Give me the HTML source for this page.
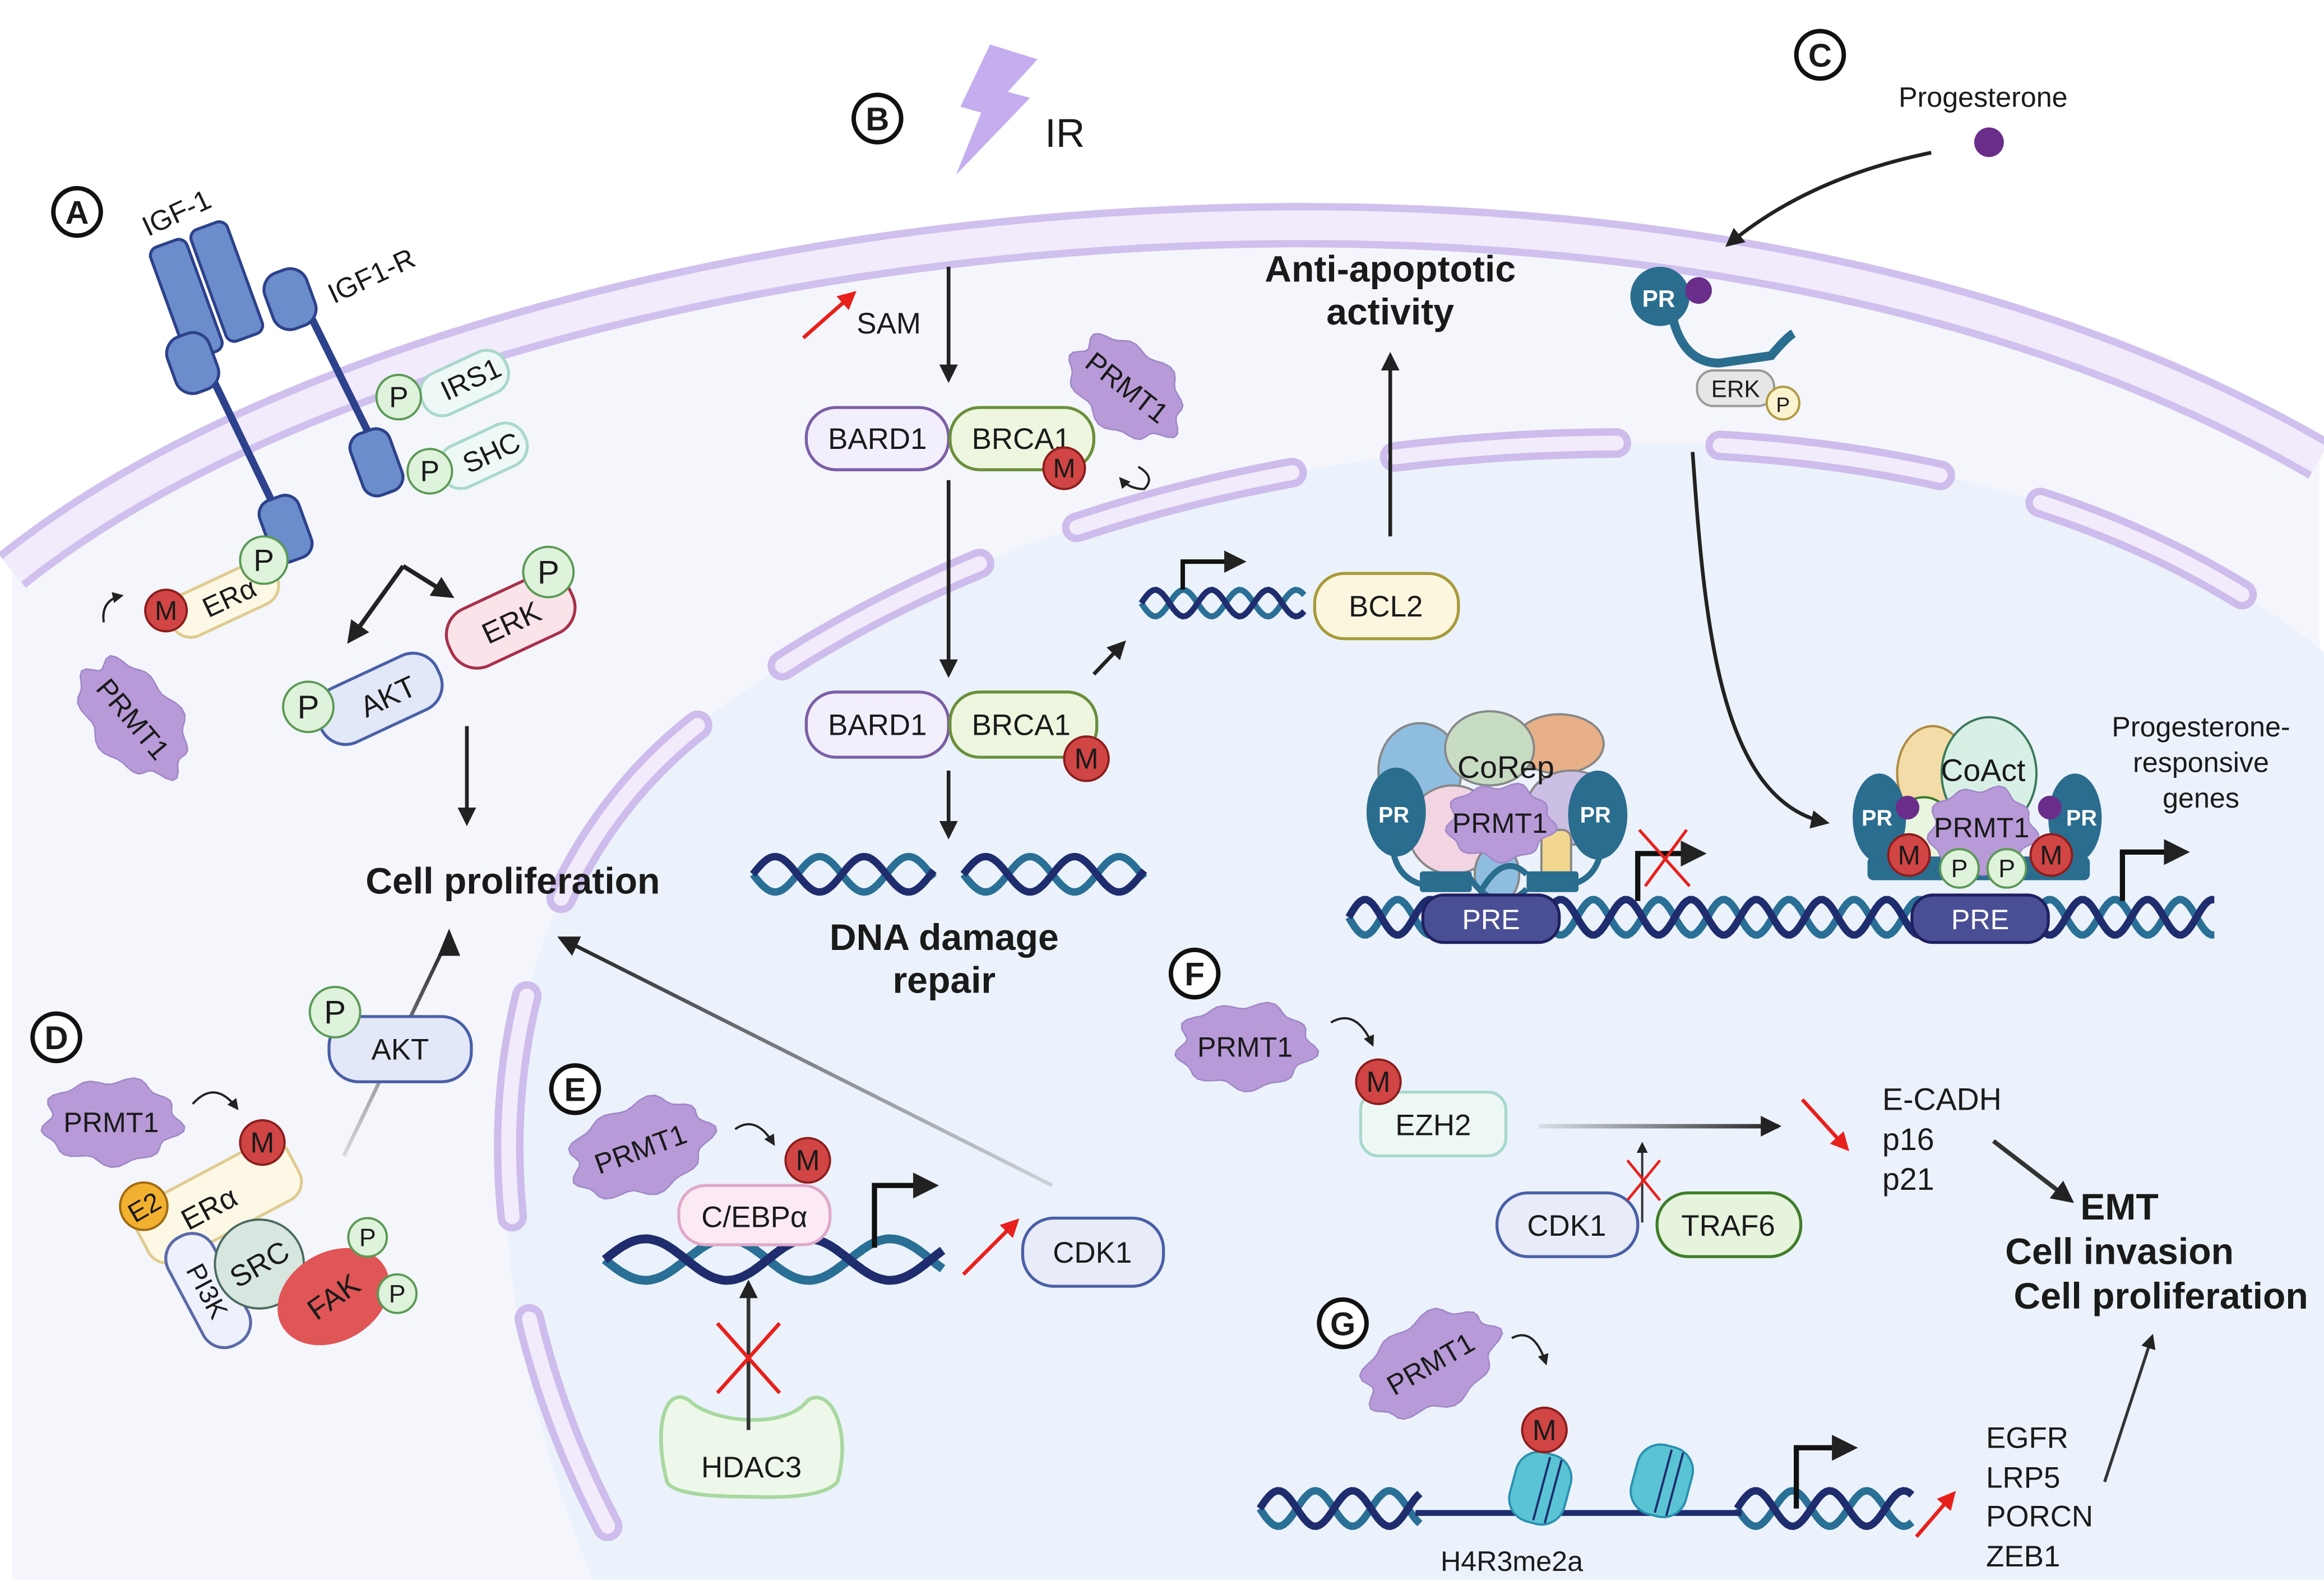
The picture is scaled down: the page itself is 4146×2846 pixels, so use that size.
<!DOCTYPE html>
<html><head><meta charset="utf-8">
<style>
html,body{margin:0;padding:0;background:#fff;}
svg{display:block;}
text{font-family:"Liberation Sans",Arial,sans-serif;fill:#1a1a1a;}
.b{font-weight:bold;}
</style></head>
<body>
<svg id="s" width="4146" height="2846" viewBox="0 0 1568 1076.35" xmlns="http://www.w3.org/2000/svg">
<defs>
<marker id="ah" viewBox="0 0 10 10" refX="8" refY="5" markerWidth="5" markerHeight="5" orient="auto-start-reverse"><path d="M0,0 L10,5 L0,10 z" fill="#222"/></marker>
<marker id="ar" viewBox="0 0 10 10" refX="8" refY="5" markerWidth="5" markerHeight="5" orient="auto"><path d="M0,0 L10,5 L0,10 z" fill="#e8201c"/></marker>
<linearGradient id="gl1" gradientUnits="userSpaceOnUse" x1="232" y1="780" x2="303" y2="632"><stop offset="0" stop-color="#333" stop-opacity="0.15"/><stop offset="1" stop-color="#222"/></linearGradient>
<linearGradient id="gl2" gradientUnits="userSpaceOnUse" x1="710" y1="800" x2="380" y2="634"><stop offset="0" stop-color="#555" stop-opacity="0.2"/><stop offset="1" stop-color="#222"/></linearGradient>
<linearGradient id="gl3" gradientUnits="userSpaceOnUse" x1="1038" y1="760" x2="1200" y2="760"><stop offset="0" stop-color="#333" stop-opacity="0.1"/><stop offset="1" stop-color="#222"/></linearGradient>
</defs>

<path d="M8 385 C300 150,1100 40,1565 310 L1565 1066 L8 1066 Z" fill="#f4f6fc"/>
<path d="M400 1066 C300 820,330 600,470 490 C650 350,900 290,1150 300 C1350 310,1480 370,1568 440 L1568 1066 Z" fill="#ebf2fb"/>
<path d="M8 385 C300 150,1100 40,1565 310" fill="none" stroke="#d0c0ee" stroke-width="30"/>
<path d="M8 385 C300 150,1100 40,1565 310" fill="none" stroke="#f1ebfb" stroke-width="20"/>
<path d="M410 1030 C300 820,330 600,470 490 C650 350,900 290,1150 300 C1350 310,1480 370,1568 440" fill="none" stroke="#cdbcec" stroke-width="20" stroke-linecap="round" stroke-dasharray="150 70"/>
<path d="M410 1030 C300 820,330 600,470 490 C650 350,900 290,1150 300 C1350 310,1480 370,1568 440" fill="none" stroke="#f1ebfb" stroke-width="10" stroke-linecap="round" stroke-dasharray="150 70"/>

<g id="dyn"></g>

<g font-size="22" class="b" text-anchor="middle">
<circle cx="52" cy="143" r="16" fill="#fff" stroke="#111" stroke-width="3"/><text x="52" y="151" class="b">A</text>
<circle cx="592" cy="80" r="16" fill="#fff" stroke="#111" stroke-width="3"/><text x="592" y="88" class="b">B</text>
<circle cx="1228" cy="37" r="16" fill="#fff" stroke="#111" stroke-width="3"/><text x="1228" y="45" class="b">C</text>
<circle cx="38" cy="700" r="16" fill="#fff" stroke="#111" stroke-width="3"/><text x="38" y="708" class="b">D</text>
<circle cx="388" cy="735" r="16" fill="#fff" stroke="#111" stroke-width="3"/><text x="388" y="743" class="b">E</text>
<circle cx="806" cy="657" r="16" fill="#fff" stroke="#111" stroke-width="3"/><text x="806" y="665" class="b">F</text>
<circle cx="906" cy="893" r="16" fill="#fff" stroke="#111" stroke-width="3"/><text x="906" y="901" class="b">G</text>
</g>

<path d="M668 30 L700 40 L680 62 L695 66 L645 118 L662 76 L648 72 Z" fill="#c4aef0"/>
<text x="705" y="99" font-size="27">IR</text>

<g fill="#6b8dcb" stroke="#2d418c" stroke-width="2">
<line x1="136" y1="240" x2="190" y2="352" stroke="#2d418c" stroke-width="5"/>
<line x1="203" y1="200" x2="255" y2="305" stroke="#2d418c" stroke-width="5"/>
<rect x="112" y="162" width="26" height="80" rx="6" transform="rotate(-20 125 200)"/>
<rect x="140" y="150" width="26" height="80" rx="6" transform="rotate(-20 153 190)"/>
<rect x="115" y="225" width="30" height="40" rx="12" transform="rotate(-20 130 245)"/>
<rect x="180" y="182" width="30" height="40" rx="12" transform="rotate(-20 195 200)"/>
<rect x="178" y="335" width="28" height="44" rx="10" transform="rotate(-20 192 355)"/>
<rect x="240" y="290" width="28" height="44" rx="10" transform="rotate(-20 254 312)"/>
</g>
<text x="95" y="152" font-size="19" transform="rotate(-25 115 145)">IGF-1</text>
<text x="218" y="197" font-size="19" transform="rotate(-25 240 185)">IGF1-R</text>
<g transform="rotate(-25 312 258)"><rect x="282" y="244" width="62" height="30" rx="14" fill="#eef8f6" stroke="#a9d8cc" stroke-width="2"/><text x="318" y="265" font-size="19" text-anchor="middle">IRS1</text></g>
<g transform="rotate(-25 325 308)"><rect x="295" y="293" width="62" height="30" rx="14" fill="#eef8f6" stroke="#a9d8cc" stroke-width="2"/><text x="332" y="315" font-size="19" text-anchor="middle">SHC</text></g>
<g transform="rotate(-25 150 405)"><rect x="112" y="390" width="78" height="30" rx="14" fill="#fdf8e6" stroke="#e0cc90" stroke-width="2"/><text x="155" y="412" font-size="19" text-anchor="middle">ERα</text></g>
<g transform="rotate(-25 255 472)"><rect x="212" y="452" width="88" height="40" rx="18" fill="#e3e8f8" stroke="#4a5fa8" stroke-width="2"/><text x="262" y="480" font-size="20" text-anchor="middle">AKT</text></g>
<g transform="rotate(-25 345 420)"><rect x="300" y="398" width="90" height="42" rx="19" fill="#fbe3ea" stroke="#a8304a" stroke-width="2"/><text x="345" y="427" font-size="20" text-anchor="middle">ERK</text></g>
<path d="M272 382 L236 432" stroke="#222" stroke-width="3" fill="none" marker-end="url(#ah)"/>
<path d="M272 382 L304 402" stroke="#222" stroke-width="3" fill="none" marker-end="url(#ah)"/>
<path d="M315 490 L315 555" stroke="#222" stroke-width="2.5" marker-end="url(#ah)"/>
<path d="M70 420 Q68 405 82 402" stroke="#222" stroke-width="1.5" fill="none" marker-end="url(#ah)"/>
<text x="346" y="603" font-size="25" class="b" text-anchor="middle">Cell proliferation</text>

<path d="M542 228 L576 198" stroke="#e8201c" stroke-width="2.5" marker-end="url(#ar)"/>
<text x="578" y="225" font-size="20">SAM</text>
<path d="M640 180 L640 256" stroke="#222" stroke-width="2.5" marker-end="url(#ah)"/>
<rect x="544" y="275" width="96" height="42" rx="20" fill="#f3eefb" stroke="#7b5ea7" stroke-width="2"/><text x="592" y="303" font-size="20" text-anchor="middle">BARD1</text>
<rect x="641" y="275" width="97" height="42" rx="20" fill="#eef6e0" stroke="#6a8f3a" stroke-width="2"/><text x="689" y="303" font-size="20" text-anchor="middle">BRCA1</text>
<path d="M640 324 L640 455" stroke="#222" stroke-width="2.5" marker-end="url(#ah)"/>
<rect x="544" y="467" width="96" height="44" rx="20" fill="#f3eefb" stroke="#7b5ea7" stroke-width="2"/><text x="592" y="496" font-size="20" text-anchor="middle">BARD1</text>
<rect x="641" y="467" width="99" height="44" rx="20" fill="#eef6e0" stroke="#6a8f3a" stroke-width="2"/><text x="689" y="496" font-size="20" text-anchor="middle">BRCA1</text>
<path d="M640 520 L640 564" stroke="#222" stroke-width="2.5" marker-end="url(#ah)"/>
<path d="M738 455 L758 434" stroke="#222" stroke-width="2.5" marker-end="url(#ah)"/>
<path d="M768 315 Q780 322 772 330 Q762 330 756 323" stroke="#222" stroke-width="1.5" fill="none" marker-end="url(#ah)"/>
<text x="637" y="641" font-size="25" class="b" text-anchor="middle">DNA damage</text>
<text x="637" y="670" font-size="25" class="b" text-anchor="middle">repair</text>
<rect x="887" y="387" width="97" height="44" rx="20" fill="#fbf6dd" stroke="#a89a3a" stroke-width="2"/><text x="935" y="416" font-size="20" text-anchor="middle">BCL2</text>
<path d="M798 398 L798 379 L838 379" stroke="#111" stroke-width="3" fill="none" marker-end="url(#ah)"/>
<path d="M938 362 L938 240" stroke="#222" stroke-width="2.5" marker-end="url(#ah)"/>
<text x="938" y="190" font-size="25" class="b" text-anchor="middle">Anti-apoptotic</text>
<text x="938" y="219" font-size="25" class="b" text-anchor="middle">activity</text>

<text x="1338" y="72" font-size="19" text-anchor="middle">Progesterone</text>
<circle cx="1342" cy="96" r="10" fill="#6b2d8a"/>
<path d="M1303 103 Q1220 120 1166 165" stroke="#222" stroke-width="2.5" fill="none" marker-end="url(#ah)"/>
<path d="M1128 212 Q1135 245 1160 245 L1195 240 Q1205 228 1210 225" stroke="#2a6d8f" stroke-width="6" fill="none"/>
<circle cx="1120" cy="200" r="20" fill="#2a6d8f"/>
<text x="1108" y="207" font-size="16" class="b" style="fill:#fff">PR</text>
<circle cx="1146" cy="196" r="9" fill="#6b2d8a"/>
<rect x="1145" y="250" width="52" height="24" rx="11" fill="#e6e6e6" stroke="#999" stroke-width="1.5"/><text x="1171" y="268" font-size="16" text-anchor="middle">ERK</text>
<circle cx="1203" cy="272" r="11" fill="#fbf3d0" stroke="#b09a40" stroke-width="1.5"/><text x="1203" y="278" font-size="14" text-anchor="middle">P</text>
<path d="M1142 305 C1150 420,1160 540,1232 555" stroke="#222" stroke-width="2.5" fill="none" marker-end="url(#ah)"/>
<text x="1485" y="497" font-size="19" text-anchor="middle">Progesterone-</text>
<text x="1485" y="521" font-size="19" text-anchor="middle">responsive</text>
<text x="1485" y="545" font-size="19" text-anchor="middle">genes</text>

<g stroke="#888" stroke-width="1.5">
<ellipse cx="1052" cy="502" rx="30" ry="20" fill="#e8b088"/>
<ellipse cx="958" cy="520" rx="28" ry="32" fill="#8fbde0"/>
<ellipse cx="1005" cy="505" rx="30" ry="25" fill="#c8dcc4"/>
<ellipse cx="1060" cy="545" rx="30" ry="25" fill="#cbbfe4"/>
<ellipse cx="980" cy="560" rx="30" ry="30" fill="#f2d4e2"/>
<rect x="1040" y="560" width="20" height="40" rx="6" fill="#f3d690"/>
<ellipse cx="1010" cy="590" rx="15" ry="20" fill="#8fbde0"/>
</g>
<g fill="#2a6d8f">
<ellipse cx="942" cy="548" rx="20" ry="30"/><ellipse cx="1078" cy="550" rx="20" ry="30"/>
<rect x="958" y="588" width="35" height="14" rx="2"/><rect x="1030" y="588" width="35" height="14" rx="2"/>
</g>
<path d="M940 575 Q945 600 975 598 M1080 575 Q1075 600 1045 598 M990 590 Q1010 620 1030 600 M1000 600 Q1015 575 1030 590" stroke="#2a6d8f" stroke-width="4" fill="none"/>
<text x="930" y="555" font-size="15" class="b" style="fill:#fff">PR</text>
<text x="1066" y="555" font-size="15" class="b" style="fill:#fff">PR</text>
<text x="1016" y="525" font-size="21" text-anchor="middle">CoRep</text>
<g stroke-width="1.5">
<ellipse cx="1304" cy="522" rx="24" ry="32" fill="#f3dca8" stroke="#b08a40"/>
<ellipse cx="1342" cy="522" rx="32" ry="38" fill="#d8efe6" stroke="#3a7a5a"/>
<ellipse cx="1298" cy="560" rx="20" ry="22" fill="#e8f6e0" stroke="#3a7a2a"/>
</g>
<g fill="#2a6d8f">
<ellipse cx="1268" cy="552" rx="18" ry="30"/><ellipse cx="1400" cy="552" rx="18" ry="30"/>
<rect x="1260" y="578" width="150" height="16" rx="4"/>
</g>
<circle cx="1287" cy="545" r="8" fill="#6b2d8a"/><circle cx="1383" cy="545" r="8" fill="#6b2d8a"/>
<text x="1256" y="557" font-size="15" class="b" style="fill:#fff">PR</text>
<text x="1394" y="557" font-size="15" class="b" style="fill:#fff">PR</text>
<text x="1338" y="527" font-size="21" text-anchor="middle">CoAct</text>

<g transform="rotate(-28 145 812)"><rect x="90" y="790" width="115" height="44" rx="14" fill="#fdf8e6" stroke="#e0cc90" stroke-width="2"/><text x="140" y="820" font-size="20" text-anchor="middle">ERα</text></g>
<circle cx="97" cy="814" r="16" fill="#f2b030" stroke="#a06a10" stroke-width="1.5"/><text x="97" y="821" font-size="18" text-anchor="middle" transform="rotate(-30 97 814)">E2</text>
<g transform="rotate(62 140 870)"><rect x="100" y="853" width="82" height="34" rx="16" fill="#eef1fb" stroke="#5a6aa8" stroke-width="2"/><text x="141" y="877" font-size="18" text-anchor="middle">PI3K</text></g>
<circle cx="175" cy="853" r="30" fill="#d8e6e0" stroke="#4a6a60" stroke-width="1.5"/><text x="175" y="860" font-size="20" text-anchor="middle" transform="rotate(-30 175 853)">SRC</text>
<ellipse cx="225" cy="875" rx="40" ry="30" fill="#e05555" transform="rotate(-30 225 875)"/><text x="225" y="882" font-size="20" text-anchor="middle" transform="rotate(-35 225 875)">FAK</text>
<path d="M130 745 Q145 728 160 748" stroke="#222" stroke-width="1.5" fill="none" marker-end="url(#ah)"/>
<path d="M232 780 L303 632" stroke="url(#gl1)" stroke-width="2.5"/><path d="M296 645 L303 628 L310 645" fill="#222" stroke="#222" stroke-width="1"/>
<rect x="222" y="686" width="96" height="44" rx="20" fill="#e3e8f8" stroke="#4a5fa8" stroke-width="2"/><text x="270" y="715" font-size="20" text-anchor="middle">AKT</text>

<rect x="458" y="800" width="102" height="40" rx="18" fill="#fbeaf4" stroke="#e0a8c8" stroke-width="2"/><text x="509" y="828" font-size="20" text-anchor="middle">C/EBPα</text>
<path d="M496 762 Q510 752 522 772" stroke="#222" stroke-width="1.5" fill="none" marker-end="url(#ah)"/>
<path d="M590 842 L590 800 L630 800" stroke="#111" stroke-width="3.5" fill="none" marker-end="url(#ah)"/>
<path d="M650 860 L686 824" stroke="#e8201c" stroke-width="2.5" marker-end="url(#ar)"/>
<rect x="690" y="822" width="95" height="46" rx="21" fill="#e8ebf8" stroke="#4a5fa8" stroke-width="2"/><text x="737" y="852" font-size="20" text-anchor="middle">CDK1</text>
<path d="M710 800 L380 634" stroke="url(#gl2)" stroke-width="2.5"/><path d="M392 632 L376 632 L386 645 Z" fill="#222"/>
<path d="M450 1000 C440 960,450 935,465 945 C480 960,530 965,545 945 C560 935,575 965,565 1000 Q555 1012 505 1010 Q455 1010 450 1000 Z" fill="#eef8ea" stroke="#a8d8a0" stroke-width="2.5"/>
<text x="507" y="997" font-size="20" text-anchor="middle">HDAC3</text>
<path d="M505 965 L505 866" stroke="#333" stroke-width="2.5" marker-end="url(#ah)"/>
<path d="M484 893 L526 940 M526 893 L484 940" stroke="#e8201c" stroke-width="2.5"/>

<path d="M898 690 Q915 680 926 705" stroke="#222" stroke-width="1.5" fill="none" marker-end="url(#ah)"/>
<rect x="918" y="737" width="98" height="43" rx="12" fill="#edf8f5" stroke="#a8d8cc" stroke-width="2"/><text x="967" y="766" font-size="20" text-anchor="middle">EZH2</text>
<path d="M1038 760 L1200 760" stroke="url(#gl3)" stroke-width="3"/><path d="M1188 753 L1202 760 L1188 767 Z" fill="#222"/>
<rect x="1010" y="805" width="95" height="43" rx="21" fill="#e8ebf8" stroke="#4a5fa8" stroke-width="2"/><text x="1057" y="834" font-size="20" text-anchor="middle">CDK1</text>
<rect x="1118" y="805" width="97" height="43" rx="21" fill="#e6f4dd" stroke="#3f7d2a" stroke-width="2"/><text x="1166" y="834" font-size="20" text-anchor="middle">TRAF6</text>
<path d="M1108 825 L1108 772" stroke="#333" stroke-width="1.5" marker-end="url(#ah)"/>
<path d="M1098 783 L1120 810 M1120 783 L1098 810" stroke="#e8201c" stroke-width="1.8"/>
<path d="M1216 742 L1246 775" stroke="#e8201c" stroke-width="2.5" marker-end="url(#ar)"/>
<text x="1270" y="749" font-size="21">E-CADH</text>
<text x="1270" y="776" font-size="21">p16</text>
<text x="1270" y="803" font-size="21">p21</text>
<path d="M1345 770 L1397 810" stroke="#333" stroke-width="3" marker-end="url(#ah)"/>
<text x="1430" y="823" font-size="25" class="b" text-anchor="middle">EMT</text>
<text x="1430" y="853" font-size="25" class="b" text-anchor="middle">Cell invasion</text>
<text x="1458" y="883" font-size="25" class="b" text-anchor="middle">Cell proliferation</text>

<path d="M955 1021 L1175 1021" stroke="#1f2d6e" stroke-width="4"/>
<g transform="rotate(15 1038 1005)"><rect x="1020" y="980" width="38" height="48" rx="16" fill="#5bc4d4" stroke="#2a90b0" stroke-width="1.5"/><path d="M1040 982 L1040 1026 M1048 982 L1048 1026" stroke="#1f2d6e" stroke-width="1.5"/></g>
<g transform="rotate(15 1120 1000)"><rect x="1102" y="975" width="38" height="48" rx="16" fill="#5bc4d4" stroke="#2a90b0" stroke-width="1.5"/><path d="M1122 977 L1122 1021 M1130 977 L1130 1021" stroke="#1f2d6e" stroke-width="1.5"/></g>
<path d="M1020 903 Q1035 895 1043 920" stroke="#222" stroke-width="1.5" fill="none" marker-end="url(#ah)"/>
<path d="M1212 1018 L1212 977 L1250 977" stroke="#111" stroke-width="3.5" fill="none" marker-end="url(#ah)"/>
<text x="1020" y="1060" font-size="19" text-anchor="middle">H4R3me2a</text>
<path d="M1293 1037 L1318 1008" stroke="#e8201c" stroke-width="2.5" marker-end="url(#ar)"/>
<text x="1340" y="977" font-size="20">EGFR</text>
<text x="1340" y="1004" font-size="20">LRP5</text>
<text x="1340" y="1030" font-size="20">PORCN</text>
<text x="1340" y="1057" font-size="20">ZEB1</text>
<path d="M1420 1000 L1452 902" stroke="#333" stroke-width="2" marker-end="url(#ah)"/>

<g id="top"></g>

<text x="90" y="492" font-size="19" text-anchor="middle" transform="rotate(50 90 485)">PRMT1</text>
<text x="760" y="268" font-size="19" text-anchor="middle" transform="rotate(38 760 262)">PRMT1</text>
<text x="75" y="764" font-size="19" text-anchor="middle">PRMT1</text>
<text x="432" y="782" font-size="19" text-anchor="middle" transform="rotate(-20 432 775)">PRMT1</text>
<text x="840" y="713" font-size="19" text-anchor="middle">PRMT1</text>
<text x="965" y="927" font-size="19" text-anchor="middle" transform="rotate(-30 965 920)">PRMT1</text>
<text x="1012" y="562" font-size="19" text-anchor="middle">PRMT1</text>
<text x="1337" y="565" font-size="19" text-anchor="middle">PRMT1</text>

<rect x="960" y="604" width="92" height="32" rx="14" fill="#4a4f95" stroke="#1f2060" stroke-width="2"/><text x="1006" y="627" font-size="19" text-anchor="middle" style="fill:#fff">PRE</text>
<rect x="1290" y="604" width="92" height="32" rx="14" fill="#4a4f95" stroke="#1f2060" stroke-width="2"/><text x="1336" y="627" font-size="19" text-anchor="middle" style="fill:#fff">PRE</text>
<path d="M1105 608 L1105 576 L1148 576" stroke="#111" stroke-width="3.5" fill="none" marker-end="url(#ah)"/>
<path d="M1106 560 L1140 598 M1138 560 L1110 598" stroke="#e8201c" stroke-width="2"/>
<path d="M1432 608 L1432 575 L1474 575" stroke="#111" stroke-width="3.5" fill="none" marker-end="url(#ah)"/>
</svg>
<script>
var NS="http://www.w3.org/2000/svg";
var dyn=document.getElementById("dyn"), top_=document.getElementById("top");
function el(p,tag,a){var e=document.createElementNS(NS,tag);for(var k in a)e.setAttribute(k,a[k]);p.appendChild(e);return e;}
function helix(x0,x1,y,amp,per,w,p){p=p||dyn;
 ["#2a6f96","#1f2d6e"].forEach(function(c,i){var d="";for(var x=x0;x<=x1;x+=2){var yy=y+amp*Math.sin((x-x0)/per*2*Math.PI+i*Math.PI);d+=(d?"L":"M")+x+" "+yy.toFixed(1);}
 el(p,"path",{d:d,fill:"none",stroke:c,"stroke-width":w});});}
function blob(cx,cy,rx,ry,rot,p){p=p||top_;var d="";for(var i=0;i<=60;i++){var t=i/60*2*Math.PI;var r=1+0.07*Math.sin(t*9)+0.05*Math.sin(t*5+1);var x=cx+rx*r*Math.cos(t),y=cy+ry*r*Math.sin(t);d+=(i?"L":"M")+x.toFixed(1)+" "+y.toFixed(1);}
 el(p,"path",{d:d+"Z",fill:"#b89ad8",stroke:"#a088c8","stroke-width":1,transform:"rotate("+rot+" "+cx+" "+cy+")"});}
function circ(cx,cy,r,t,p){p=p||top_;var M=t=="M";el(p,"circle",{cx:cx,cy:cy,r:r,fill:M?"#d14545":"#dff2dc",stroke:M?"#8c1d1d":"#5b9a55","stroke-width":1.5});var tx=el(p,"text",{x:cx,y:cy+r*0.45,"font-size":r*1.3,"text-anchor":"middle"});tx.textContent=t;}
helix(770,880,407,9,38,4);
helix(508,630,590,12,60,5);helix(650,772,590,12,60,5);
helix(910,1495,619,12,44,5);
helix(408,636,850,14,110,6);
helix(850,958,1018,12,50,5);helix(1172,1290,1018,12,50,5);
blob(90,485,45,28,50);blob(760,262,42,28,38);blob(75,757,45,28,0);blob(432,775,48,30,-20);blob(840,706,45,28,0);blob(965,920,48,30,-30);blob(1012,555,35,25,0);blob(1337,560,35,28,0);
circ(269,268,15,"P");circ(290,318,15,"P");circ(178,378,16,"P");circ(112,412,14,"M");circ(208,477,17,"P");circ(370,386,17,"P");
circ(718,316,14,"M");circ(733,512,15,"M");
circ(177,771,15,"M");circ(248,835,13,"P");circ(268,873,13,"P");circ(226,683,17,"P");
circ(545,783,15,"M");circ(930,730,15,"M");circ(1042,965,15,"M");
circ(1288,577,14,"M");circ(1384,577,14,"M");circ(1322,586,13,"P");circ(1354,586,13,"P");
</script>
</body></html>
